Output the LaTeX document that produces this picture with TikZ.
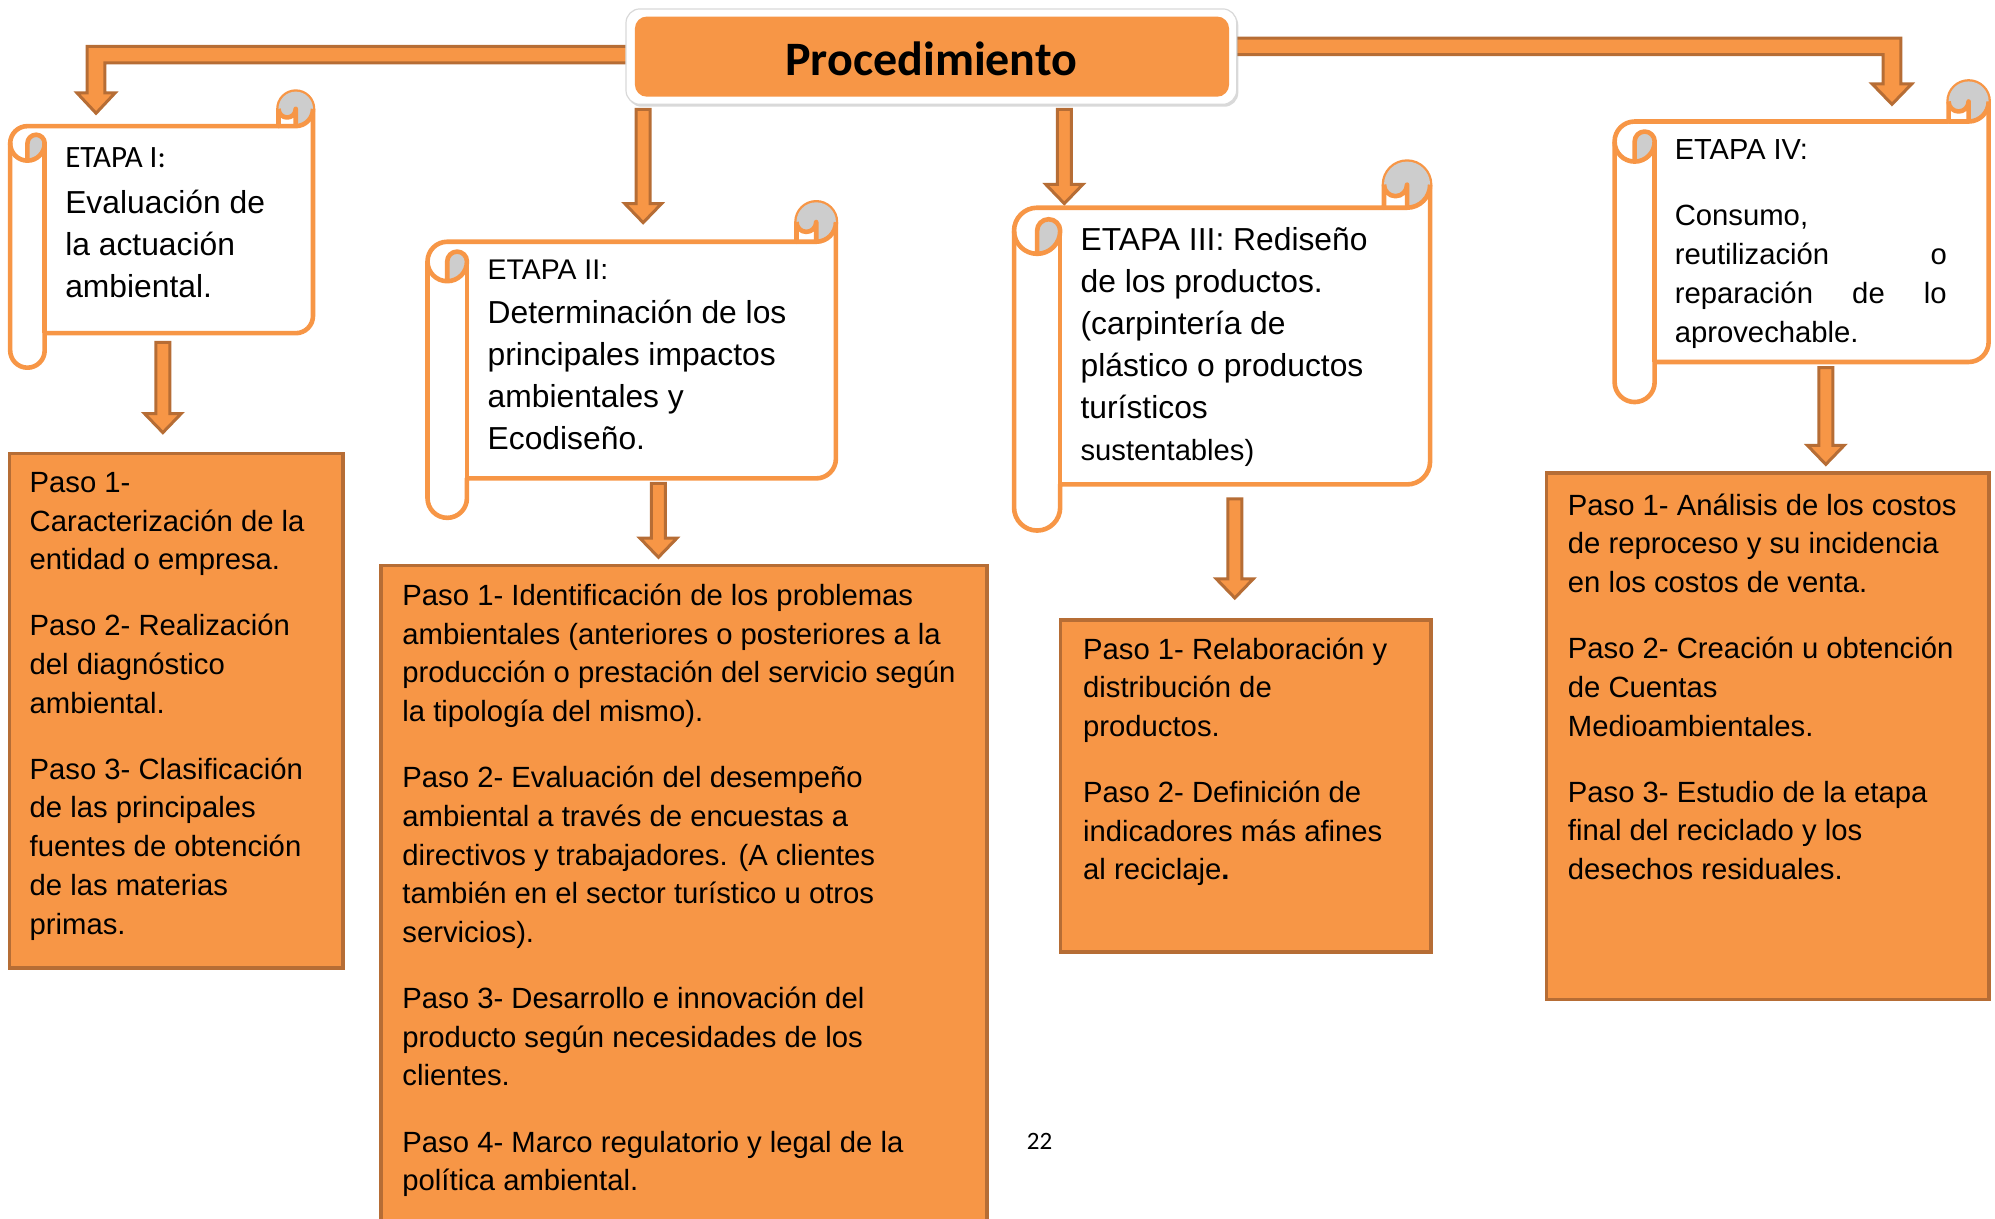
\documentclass[tikz,border=0pt]{standalone}
\usepackage{fontspec}
\setmainfont{Liberation Sans}
\newfontfamily\calibrifont{Carlito}
\usetikzlibrary{calc,fit,shadows}
\definecolor{orng}{HTML}{F79646}
\definecolor{brwn}{HTML}{B66D35}
\definecolor{curlgray}{HTML}{CDCDCD}
\tikzset{
  pasobox/.style={draw=brwn, fill=orng, line width=1.9pt, inner sep=0pt},
  blockarrow/.style={draw=brwn, fill=orng, line width=1.5pt, line join=miter},
  scrollline/.style={draw=orng, line width=2.3pt, line join=round},
  pasotext/.style={anchor=base west, inner sep=0pt, font=\fontsize{14.63}{19.34}\selectfont},
  scrolltext/.style={anchor=base west, inner sep=0pt, font=\fontsize{15.9}{21}\selectfont},
  headtext/.style={anchor=base west, inner sep=0pt},
}
\newcommand\ptext[2]{\parbox[t]{#1}{\raggedright #2}}
\newcommand\blockdown[2]{%
  \draw[blockarrow] ($(#1)+(-5.5,0)$) -- ($(#2)+(-5.5,-15)$) -- ($(#2)+(-14.5,-15)$) -- (#2)
    -- ($(#2)+(14.5,-15)$) -- ($(#2)+(5.5,-15)$) -- ($(#1)+(5.5,0)$) -- cycle;}
\newcommand\scrollshape[5]{%
  \pgfmathsetmacro\qL{#2}\pgfmathsetmacro\qT{#3}\pgfmathsetmacro\qR{#4}\pgfmathsetmacro\qB{#5}%
  \pgfmathsetmacro\qC{0.125*min(\qR-\qL,\qB-\qT)}%
  \pgfmathsetmacro\qH{\qC/2}\pgfmathsetmacro\qQ{\qC/4}%
  \pgfmathsetmacro\qxA{\qL+\qH}\pgfmathsetmacro\qxB{\qL+\qC}%
  \pgfmathsetmacro\qxC{\qR-\qC}\pgfmathsetmacro\qxD{\qR-\qH}%
  \pgfmathsetmacro\qyA{\qT+\qH}\pgfmathsetmacro\qyB{\qT+\qC}%
  \pgfmathsetmacro\qyC{\qT+1.5*\qC}\pgfmathsetmacro\qyD{\qT+2*\qC}%
  \pgfmathsetmacro\qyE{\qB-1.5*\qC}\pgfmathsetmacro\qyF{\qB-\qC}\pgfmathsetmacro\qyG{\qB-\qH}%
  \path[scrollline, fill=white] (\qL,\qyC) arc[start angle=180, delta angle=90, radius=\qH]
     -- (\qxC,\qyB) -- (\qxC,\qyA) arc[start angle=180, delta angle=180, radius=\qH]
     -- (\qR,\qyE) arc[start angle=0, delta angle=90, radius=\qH]
     -- (\qxB,\qyF) -- (\qxB,\qyG) arc[start angle=0, delta angle=180, radius=\qH] -- cycle;
  \fill[curlgray] (\qxA,\qyD) arc[start angle=90, delta angle=-90, radius=\qH]
     arc[start angle=0, delta angle=-180, radius=\qQ] -- cycle;
  \fill[curlgray] (\qxD,\qyB) arc[start angle=90, delta angle=-270, radius=\qH]
     arc[start angle=180, delta angle=-180, radius=\qQ] -- cycle;
  \draw[scrollline] (\qxC,\qyB) -- (\qxD,\qyB) arc[start angle=90, delta angle=-90, radius=\qH];
  \draw[scrollline] (\qxD,\qyB) -- (\qxD,\qyA) arc[start angle=0, delta angle=180, radius=\qQ];
  \draw[scrollline] (\qxA,\qyD) -- (\qxA,\qyC) arc[start angle=180, delta angle=180, radius=\qQ]
     arc[start angle=0, delta angle=180, radius=\qH];
  \draw[scrollline] (\qxB,\qyC) -- (\qxB,\qyF);
  \coordinate (#1) at ({(\qL+\qR)/2},{(\qT+\qB)/2});
}
\begin{document}
\begin{tikzpicture}[x=0.63615pt, y=-0.63615pt]
\useasboundingbox (0,0) rectangle (1568,958);
\clip (0,0) rectangle (1568,958);

% ---- arrow end points
\coordinate (aLs) at (494,43);   \coordinate (aLc) at (75.5,43);  \coordinate (aLt) at (75.5,89);
\coordinate (aRs) at (970,36.5); \coordinate (aRc) at (1487,36.5); \coordinate (aRt) at (1487,82);
\coordinate (pIIs) at (505.5,86);  \coordinate (pIIt) at (505.5,175);
\coordinate (pIIIs) at (836.5,86); \coordinate (pIIIt) at (836.5,160);
\coordinate (sIs) at (128,269);    \coordinate (sIt) at (128,340);
\coordinate (sIIs) at (517.5,380); \coordinate (sIIt) at (517.5,438);
\coordinate (sIIIs) at (970.5,392); \coordinate (sIIIt) at (970.5,470);
\coordinate (sIVs) at (1435,289);  \coordinate (sIVt) at (1435,365);

% ---- bent arrows
\draw[blockarrow] ($(aLs)+(0,-6.5)$) -- ($(aLc)+(-7,-6.5)$) -- ($(aLt)+(-7,-16)$) -- ($(aLt)+(-15,-16)$)
  -- (aLt) -- ($(aLt)+(15,-16)$) -- ($(aLt)+(7,-16)$) -- ($(aLc)+(7,6.5)$) -- ($(aLs)+(0,6.5)$) -- cycle;
\draw[blockarrow] ($(aRs)+(0,-6.5)$) -- ($(aRc)+(7,-6.5)$) -- ($(aRt)+(7,-16)$) -- ($(aRt)+(15.5,-16)$)
  -- (aRt) -- ($(aRt)+(-15.5,-16)$) -- ($(aRt)+(-7,-16)$) -- ($(aRc)+(-7,6.5)$) -- ($(aRs)+(0,6.5)$) -- cycle;

% ---- down arrows
\blockdown{pIIs}{pIIt}
\blockdown{pIIIs}{pIIIt}
\blockdown{sIs}{sIt}
\blockdown{sIIs}{sIIt}
\blockdown{sIIIs}{sIIIt}
\blockdown{sIVs}{sIVt}

% ---- Procedimiento
\node[fit={(492,7) (972,82)}, inner sep=0pt, fill=white, draw=black!15, line width=0.6pt,
      rounded corners=7pt, drop shadow={shadow xshift=0.8pt, shadow yshift=-1.2pt, opacity=0.3}] (procout) {};
\node[fit={(499,13) (966,76)}, inner sep=0pt, fill=orng, rounded corners=6pt] (proc) {};
\node[anchor=base, inner sep=0pt, font=\calibrifont\bfseries\fontsize{24}{28}\selectfont] (procText) at (732,59.5) {Procedimiento};

% ---- scrolls
\scrollshape{scrI}{8}{72}{246}{289}
\scrollshape{scrII}{336}{159}{657}{407}
\scrollshape{scrIII}{797}{127}{1124}{417}
\scrollshape{scrIV}{1269}{64}{1563}{316}

\node[headtext, font=\calibrifont\fontsize{15.5}{18}\selectfont] (hI) at (51,132) {ETAPA I:};
\node[scrolltext] (tI) at (51,168) {\ptext{120pt}{Evaluación de\\la actuación\\ambiental.}};

\node[headtext, font=\fontsize{14.2}{17}\selectfont] (hII) at (383,220) {ETAPA II:};
\node[scrolltext] (tII) at (383,254) {\ptext{160pt}{Determinación de los\\principales impactos\\ambientales y\\Ecodiseño.}};

\node[scrolltext] (tIII) at (849,197) {\ptext{160pt}{ETAPA III: Rediseño\\de los productos.\\(carpintería de\\plástico o productos\\turísticos}};
\node[headtext, font=\fontsize{14.6}{17}\selectfont] (tIIIb) at (849,362) {sustentables)};

\node[headtext, font=\fontsize{14.5}{17}\selectfont] (hIV) at (1316,125) {ETAPA IV:};
\node[headtext, font=\fontsize{14.63}{19.5}\selectfont] (tIV) at (1316,177)
  {\ptext{136pt}{Consumo,\\\makebox[136pt]{reutilización\hfill o}\\\makebox[136pt]{reparación\hfill de\hfill lo}\\aprovechable.}};

% ---- paso boxes
\node[pasobox, fit={(7.5,356.5) (269.5,760.5)}] (boxI) {};
\node[pasobox, fit={(299.5,444.5) (775.5,975)}] (boxII) {};
\node[pasobox, fit={(833.5,487.5) (1124.5,748.5)}] (boxIII) {};
\node[pasobox, fit={(1215.5,371.5) (1563.5,785.5)}] (boxIV) {};

\node[pasotext] (pI) at (23,387) {\ptext{150pt}{Paso 1-\\Caracterización de la\\entidad o empresa.\\[13.7pt]
Paso 2- Realización\\del diagnóstico\\ambiental.\\[13.7pt]
Paso 3- Clasificación\\de las principales\\fuentes de obtención\\de las materias\\primas.}};

\node[pasotext] (pII) at (316,476) {\ptext{290pt}{Paso 1- Identificación de los problemas\\ambientales (anteriores o posteriores a la\\producción o prestación del servicio según\\la tipología del mismo).\\[13.7pt]
Paso 2- Evaluación del desempeño\\ambiental a través de encuestas a\\directivos y trabajadores. (A clientes\\también en el sector turístico u otros\\servicios).\\[13.7pt]
Paso 3- Desarrollo e innovación del\\producto según necesidades de los\\clientes.\\[13.7pt]
Paso 4- Marco regulatorio y legal de la\\política ambiental.}};

\node[pasotext] (pIII) at (851,518) {\ptext{170pt}{Paso 1- Relaboración y\\distribución de\\productos.\\[13.7pt]
Paso 2- Definición de\\indicadores más afines\\al reciclaje\textbf{.}}};

\node[pasotext] (pIV) at (1232,405) {\ptext{205pt}{Paso 1- Análisis de los costos\\de reproceso y su incidencia\\en los costos de venta.\\[13.7pt]
Paso 2- Creación u obtención\\de Cuentas\\Medioambientales.\\[13.7pt]
Paso 3- Estudio de la etapa\\final del reciclado y los\\desechos residuales.}};

\node[font=\calibrifont\fontsize{12.5}{14}\selectfont, inner sep=0pt] (pg) at (817,897) {22};
\end{tikzpicture}
\end{document}
